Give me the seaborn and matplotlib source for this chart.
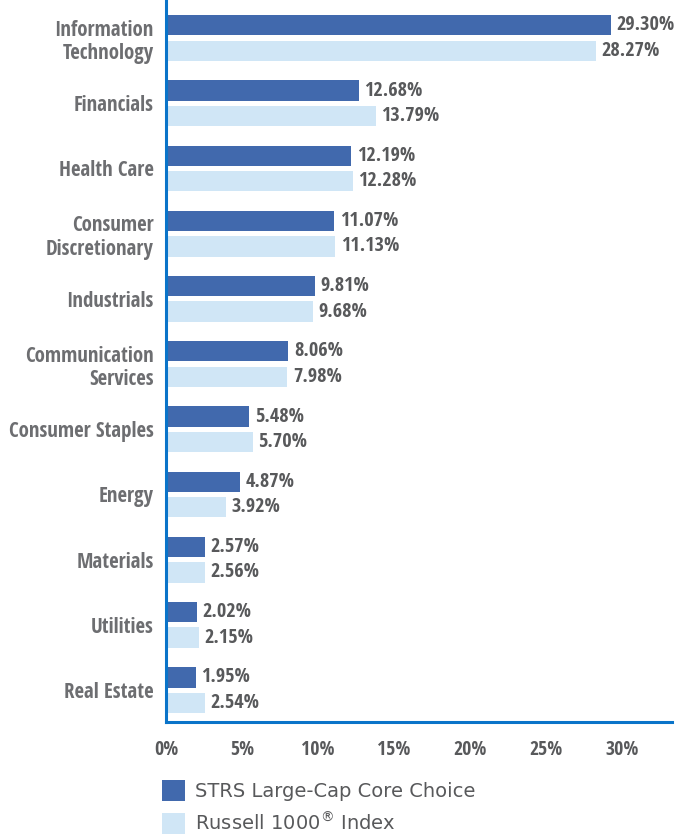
import pandas as pd
import matplotlib.pyplot as plt
import seaborn as sns
from matplotlib import font_manager

# ---------------------------------------------------------
# Data
# ---------------------------------------------------------
sectors = ["Information\nTechnology", "Financials", "Health Care",
           "Consumer\nDiscretionary", "Industrials", "Communication\nServices",
           "Consumer Staples", "Energy", "Materials", "Utilities", "Real Estate"]
fund = [29.30, 12.68, 12.19, 11.07, 9.81, 8.06, 5.48, 4.87, 2.57, 2.02, 1.95]
bench = [28.27, 13.79, 12.28, 11.13, 9.68, 7.98, 5.70, 3.92, 2.56, 2.15, 2.54]
series_names = ["STRS Large-Cap Core Choice", "Russell 1000$^{®}$ Index"]
xticks = [0, 5, 10, 15, 20, 25, 30]

df = pd.DataFrame({
    "sector": sectors * 2,
    "value": fund + bench,
    "series": [series_names[0]] * len(sectors) + [series_names[1]] * len(sectors),
})

# ---------------------------------------------------------
# Style
# ---------------------------------------------------------
sns.set_style("white")
plt.rcParams["font.family"] = ["DejaVu Sans"]

# pick a narrow bold face if one is installed
installed = {f.name for f in font_manager.fontManager.ttflist}
narrow = "DejaVu Sans"
for name in ["Liberation Sans Narrow", "Open Sans Condensed", "Roboto Condensed"]:
    if name in installed:
        narrow = name
        break

DARK = "#4169ad"
LIGHT = "#d0e6f6"
SPINE = "#0a74c9"
GREY = "#58595b"
LABEL_GREY = "#6d6e71"
cond = dict(family=[narrow, "DejaVu Sans"], fontstretch="condensed", fontweight="bold")

fig = plt.figure(figsize=(6.76, 8.35), dpi=100)
ax = fig.add_axes([166 / 676, 1 - 722 / 835, (672 - 166) / 676, 722 / 835])

sns.barplot(data=df, y="sector", x="value", hue="series", orient="h",
            palette=[DARK, LIGHT], width=0.78, gap=0.2, dodge=True,
            saturation=1, linewidth=0, legend=True, ax=ax)

ax.set_xlim(0, 33.3)
ax.set_ylim(10.49, -0.583)

for c in ax.containers:
    ax.bar_label(c, labels=[f"{v:.2f}%" for v in c.datavalues], padding=4,
                 color=GREY, fontsize=14.6, **cond)

ax.set_xticks(xticks)
ax.set_xticklabels([f"{t}%" for t in xticks], color=GREY, fontsize=14.2, **cond)
ax.tick_params(axis="x", length=0, pad=13)
ax.tick_params(axis="y", length=0, pad=9)
for lab in ax.get_yticklabels():
    lab.set_color(LABEL_GREY)
    lab.set_fontsize(15)
    lab.set_family([narrow, "DejaVu Sans"])
    lab.set_fontweight("bold")
    lab.set_fontstretch("condensed")
    lab.set_linespacing(1.15)

ax.set_xlabel("")
ax.set_ylabel("")
sns.despine(ax=ax, top=True, right=True)
for side in ["left", "bottom"]:
    ax.spines[side].set_color(SPINE)
    ax.spines[side].set_linewidth(2.2)

handles, labels = ax.get_legend_handles_labels()
ax.get_legend().remove()
fig.legend(handles, labels, loc="upper left", bbox_to_anchor=(154 / 676, 1 - 772 / 835),
           frameon=False, fontsize=14, labelcolor=GREY, handlelength=1.2,
           handleheight=1.3, handletextpad=0.52, labelspacing=0.55, borderaxespad=0)

plt.savefig("out.png", dpi=100)
plt.close()
